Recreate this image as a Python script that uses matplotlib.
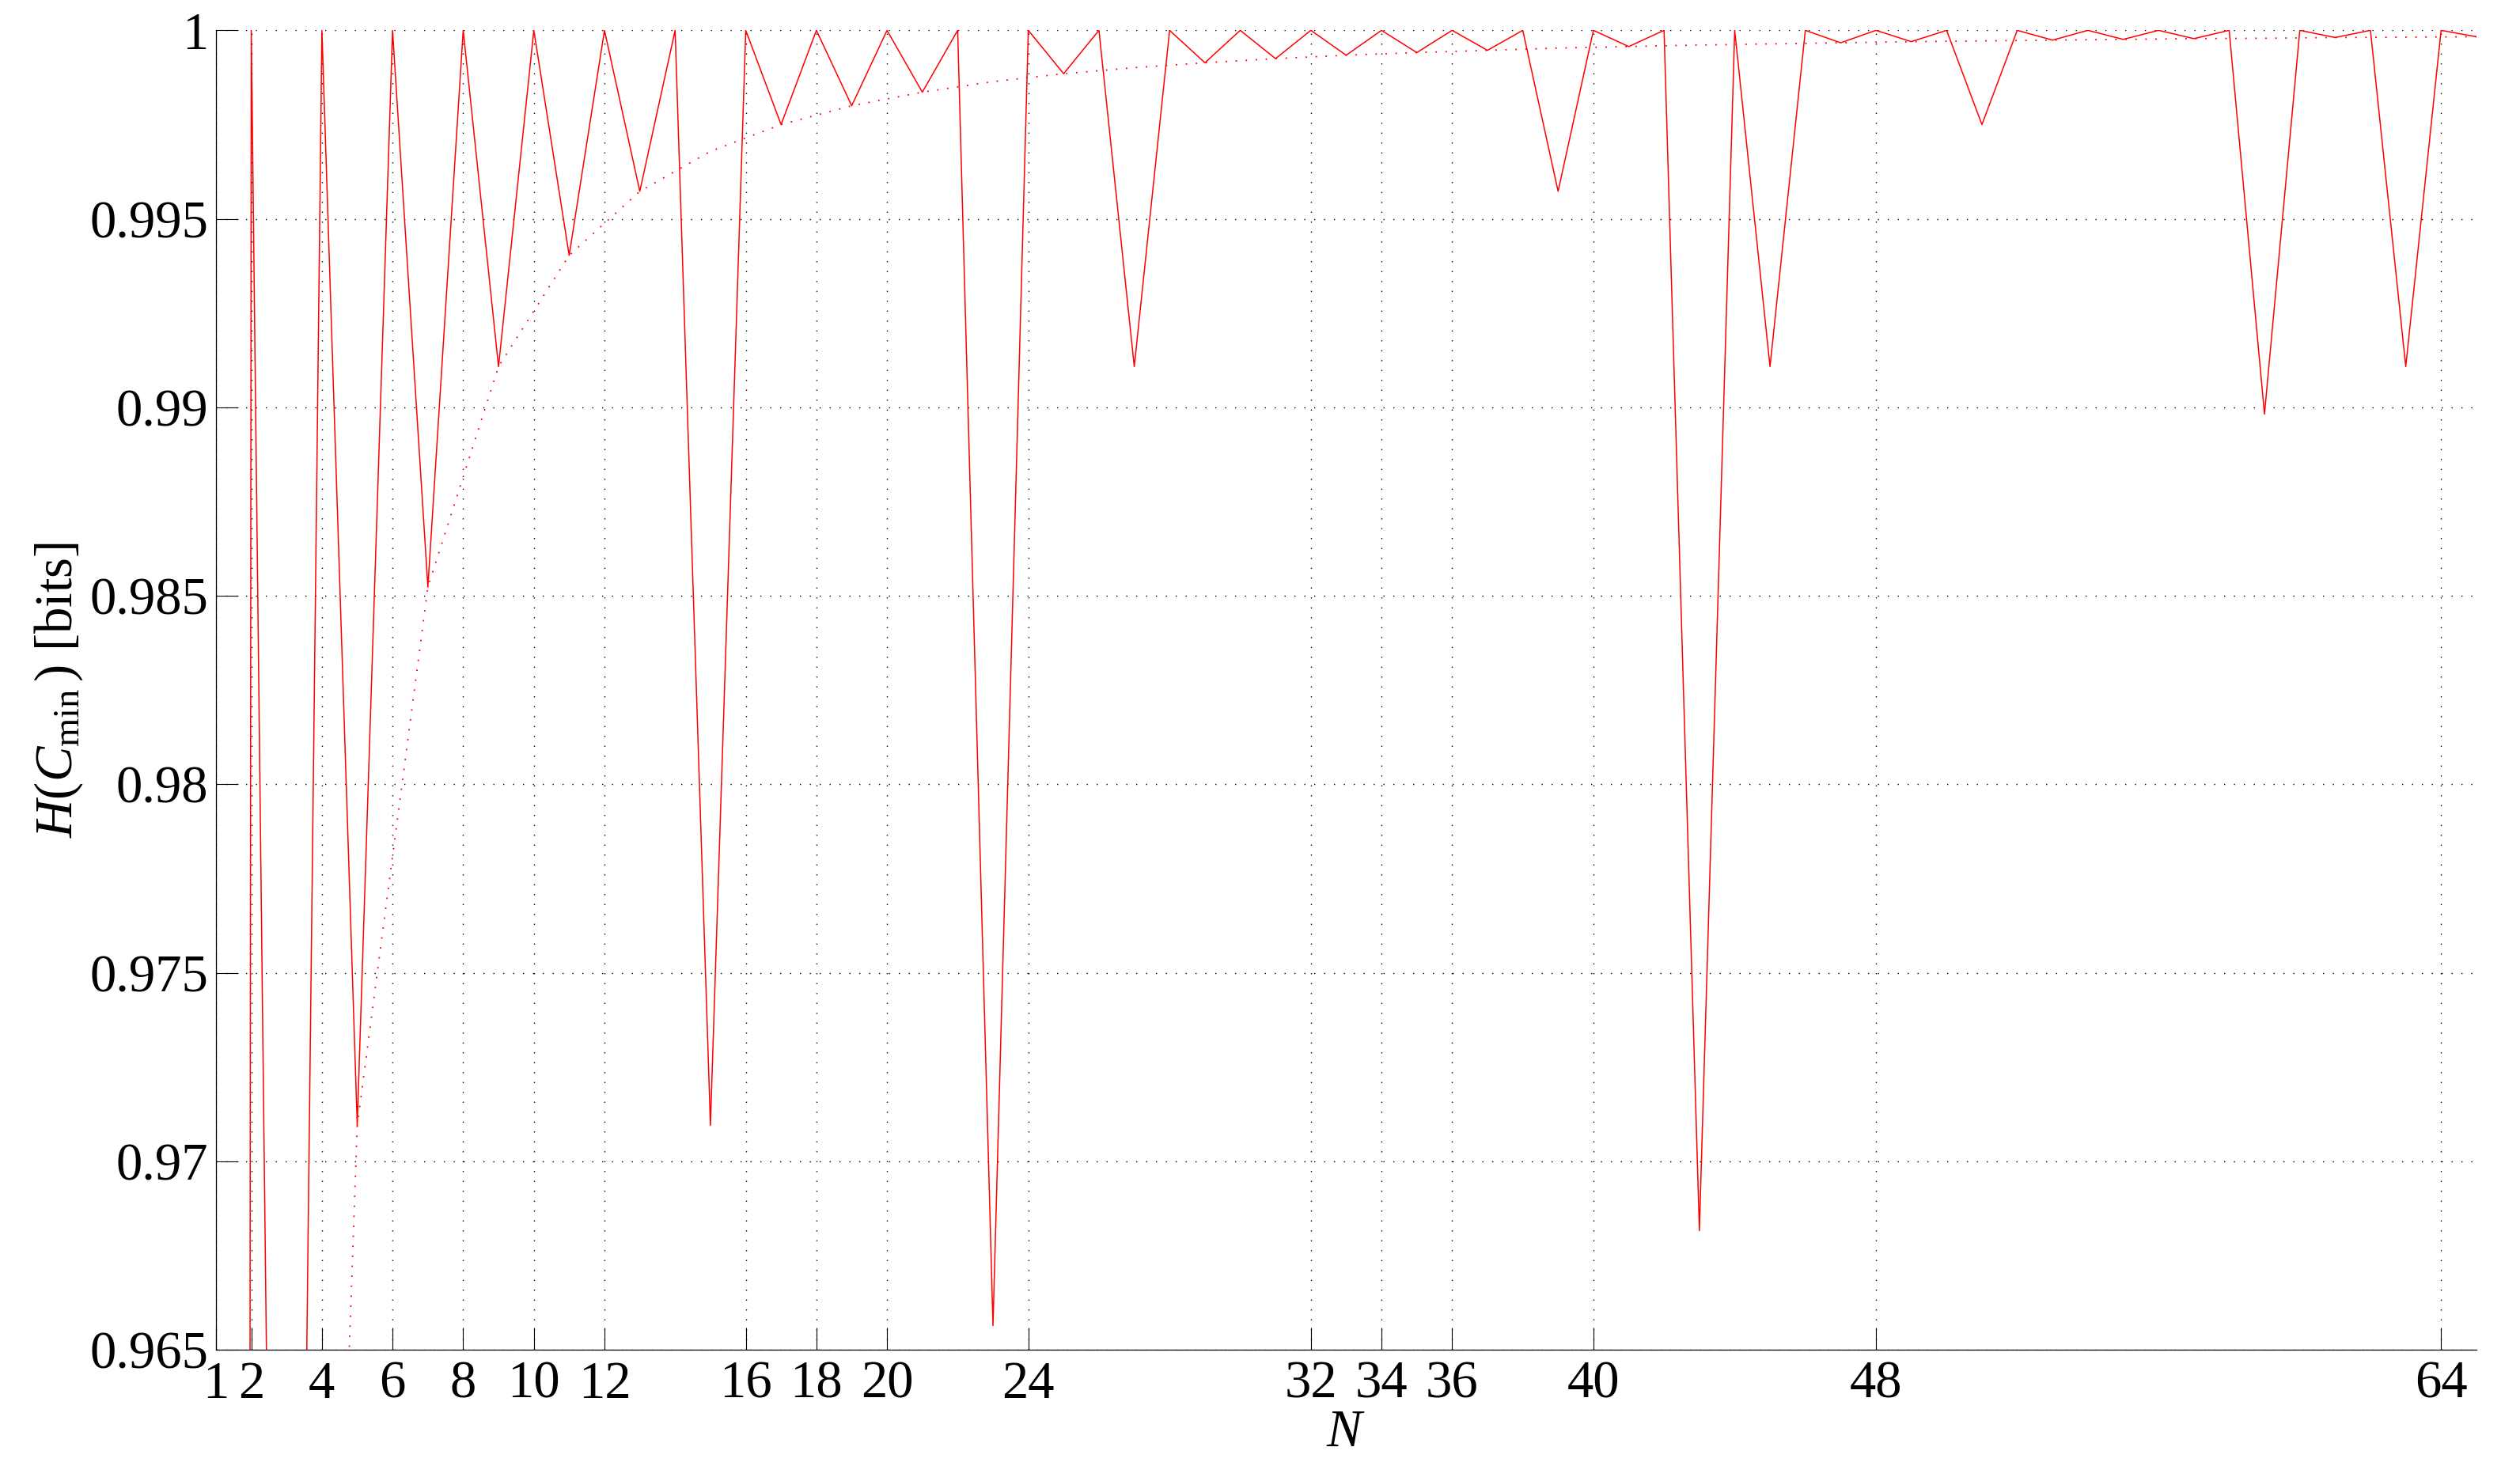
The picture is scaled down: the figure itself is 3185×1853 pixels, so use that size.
import numpy as np
import matplotlib
matplotlib.use('Agg')
import matplotlib.pyplot as plt

# Times-like text, as in the MATLAB export
plt.rcParams['font.family'] = ['Liberation Serif', 'DejaVu Serif']
plt.rcParams['mathtext.fontset'] = 'custom'
plt.rcParams['mathtext.rm'] = 'Liberation Serif'
plt.rcParams['mathtext.it'] = 'Liberation Serif:italic'

# data
N = np.arange(1, 66)
H_cmin = [0.0, 1, 0.91830, 1, 0.97095, 1, 0.98523, 1, 0.99108, 1,
          0.99403, 1, 0.99573, 1, 0.97095, 1, 0.99750, 1, 0.99800, 1,
          0.99836, 1, 0.96564, 1, 0.99885, 1, 0.99108, 1, 0.99914, 1,
          0.99925, 1, 0.99934, 1, 0.99941, 1, 0.99947, 1, 0.99573, 1,
          0.99957, 1, 0.96816, 1, 0.99108, 1, 0.99967, 1, 0.99970, 1,
          0.99750, 1, 0.99974, 1, 0.99976, 1, 0.99978, 1, 0.98982, 1,
          0.99981, 1, 0.99108, 1, 0.99983]

# dotted curve, only at odd N
N_odd = np.arange(1, 66, 2)
H_bound = [0.0, 0.91830, 0.97095, 0.98523, 0.99108, 0.99403, 0.99573, 0.99679, 0.99750, 0.99800,
           0.99836, 0.99864, 0.99885, 0.99901, 0.99914, 0.99925, 0.99934, 0.99941, 0.99947, 0.99953,
           0.99957, 0.99961, 0.99964, 0.99967, 0.99970, 0.99972, 0.99974, 0.99976, 0.99978, 0.99979,
           0.99981, 0.99982, 0.99983]

xticks = [1, 2, 4, 6, 8, 10, 12, 16, 18, 20, 24, 32, 34, 36, 40, 48, 64]
yticks = [0.965, 0.97, 0.975, 0.98, 0.985, 0.99, 0.995, 1.0]
ytick_labels = ['0.965', '0.97', '0.975', '0.98', '0.985', '0.99', '0.995', '1']

fig = plt.figure(figsize=(31.85, 18.53), dpi=100)
ax = fig.add_axes([0.0857, 0.0793, 0.897, 0.900])

ax.plot(N, H_cmin, '-', color='red', lw=1.1)
ax.plot(N_odd, H_bound, color='red', lw=1.3, linestyle=(0, (1, 6)))

ax.set_xlim(1, 65)
ax.set_ylim(0.965, 1)
ax.set_xticks(xticks)
ax.set_yticks(yticks)
ax.set_yticklabels(ytick_labels)

ax.grid(True, color='black', linestyle=(0, (1, 8)), linewidth=1.0)
ax.set_axisbelow(True)
ax.tick_params(direction='in', length=20, width=0.8, labelsize=48, pad=7)
ax.tick_params(axis='x', pad=10)
ax.spines['top'].set_visible(False)
ax.spines['right'].set_visible(False)
ax.spines['left'].set_linewidth(0.9)
ax.spines['bottom'].set_linewidth(0.9)

ax.set_xlabel(r'$N$', fontsize=48)
ax.xaxis.set_label_coords(0.5, -0.045)
ax.set_ylabel(r'$H(C_{\rm min}\,)$ [bits]', fontsize=48)
ax.yaxis.set_label_coords(-0.058, 0.5)

fig.savefig('out.png', dpi=100)
